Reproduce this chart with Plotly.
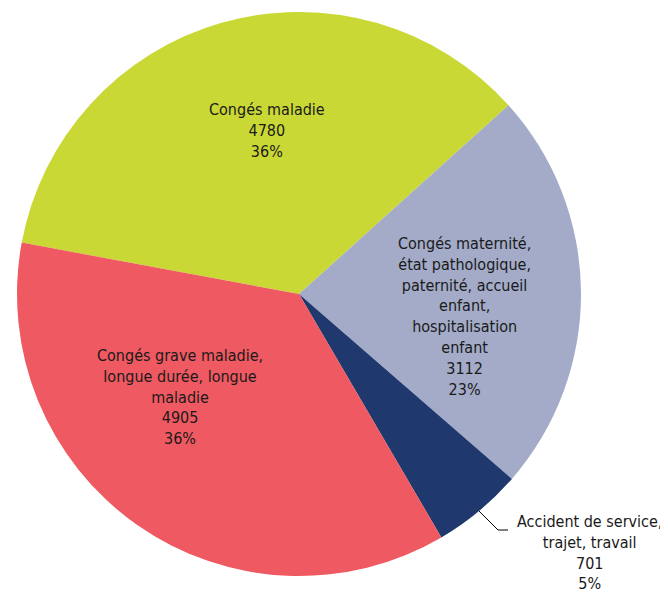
import math
import plotly.graph_objects as go

# ---- data ----
categories = [
    "Congés maladie",
    "Congés maternité, état pathologique, paternité, accueil enfant, hospitalisation enfant",
    "Accident de service, trajet, travail",
    "Congés grave maladie, longue durée, longue maladie",
]
values = [4780, 3112, 701, 4905]
percent_labels = ["36%", "23%", "5%", "36%"]
label_lines = [
    ["Congés maladie"],
    ["Congés maternité,", "état pathologique,", "paternité, accueil", "enfant,", "hospitalisation", "enfant"],
    ["Accident de service,", "trajet, travail"],
    ["Congés grave maladie,", "longue durée, longue", "maladie"],
]
colors = ["#CAD836", "#A3ABC8", "#1F386D", "#EF5961"]

# ---- layout constants ----
W, H = 668, 595
OFF = 8                            # page body margin offset
CX, CY, R = 299 - OFF, 294 - OFF, 282   # pie centre / radius in figure pixels
ROTATION = -79.5                   # start angle of first slice (clockwise from 12 o'clock)
# label block centres (pixels, page coordinates)
label_pos = [(267, 131), (464, 316), (589, 552), (180, 397)]
FONT = dict(family="DejaVu Sans Condensed, DejaVu Sans", size=16, color="#1a1a1a")

fig = go.Figure(go.Pie(
    labels=categories,
    values=values,
    sort=False,
    direction="clockwise",
    rotation=ROTATION,
    marker=dict(colors=colors, line=dict(width=0)),
    textinfo="none",
    hoverinfo="label+value+percent",
    showlegend=False,
    domain=dict(x=[(CX - R) / W, (CX + R) / W], y=[1 - (CY + R) / H, 1 - (CY - R) / H]),
))

def px2paper(x, y):
    return x / W, 1 - y / H

for lines, v, p, (lx, ly) in zip(label_lines, values, percent_labels, label_pos):
    text = "<br>".join(lines + [str(v), p])
    ax, ay = px2paper(lx - OFF, ly - OFF)
    fig.add_annotation(x=ax, y=ay, xref="paper", yref="paper", text=text,
                       showarrow=False, align="center", xanchor="center", yanchor="middle",
                       font=FONT)

# leader line for the small slice, starting at its mid-angle on the rim
total = sum(values)
start = ROTATION
for i, v in enumerate(values):
    span = v / total * 360
    if i == 2:
        mid = math.radians(start + span / 2)
        sx = CX + R * math.sin(mid)
        sy = CY - R * math.cos(mid)
    start += span
ex, ey = 498 - OFF, 530 - OFF
hx = 508 - OFF
path_pts = [px2paper(sx, sy), px2paper(ex, ey), px2paper(hx, ey)]
path = "M {} {} L {} {} L {} {}".format(*[c for pt in path_pts for c in pt])
fig.add_shape(type="path", xref="paper", yref="paper", path=path,
              line=dict(color="#000000", width=1))

fig.update_layout(
    width=W, height=H,
    margin=dict(l=0, r=0, t=0, b=0),
    paper_bgcolor="white",
    plot_bgcolor="white",
)

fig.write_html("out.html")
